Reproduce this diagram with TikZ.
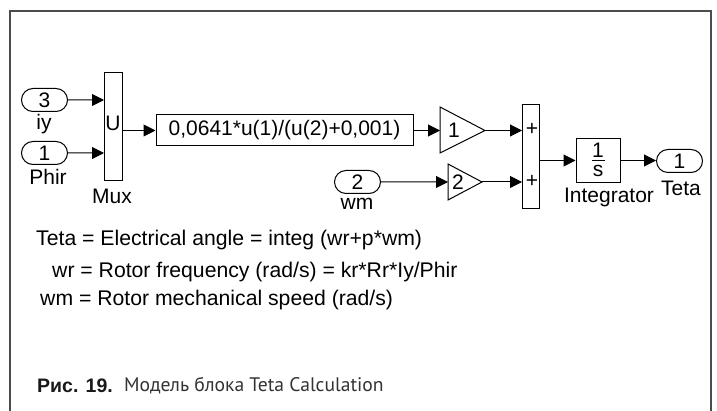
\documentclass[tikz,border=0pt]{standalone}
\usepackage{fontspec}
\setmainfont{Liberation Sans}
\newfontfamily\capfont{PT Sans}
\usetikzlibrary{arrows.meta,shapes.misc}
\tikzset{
   block/.style={draw, line width=1pt, inner sep=0pt},
   port/.style={block, rounded rectangle, minimum width=46pt, minimum height=23pt},
   wire/.style={line width=1pt, -{Triangle[length=12pt, width=12pt]}},
   lbl/.style={inner sep=0pt, font=\fontsize{21}{21}\selectfont},
   note/.style={inner sep=0pt, anchor=west, font=\fontsize{21.2}{22}\selectfont}
}
\begin{document}
\begin{tikzpicture}[x=1pt, y=-1pt]
   \useasboundingbox (0,0) rectangle (717,411);
   \path[fill=white] (0,0) rectangle (717,411);
   \draw[line width=1.4pt, black!70] (10,411) -- (10,11) -- (711,11) -- (711,411);
   \def \Ports {
      piy/21/100/3,
      pphir/21/153/1,
      pwm/334/182/2,
      pteta/656/161/1}
   \foreach \u / \x / \y / \t in \Ports {
      \node[port, anchor=west, lbl] (\u) at (\x, \y) {\t};
   }
   \node[block, minimum width=18pt, minimum height=108pt] (mux) at (113, 126.5) {};
   \node[block, minimum width=257pt, minimum height=31pt, lbl] (fcn) at (284.5, 130.5) {0,0641*u(1)/(u(2)+0,001)};
   \node[block, minimum width=17pt, minimum height=104pt] (sum) at (530.5, 156.5) {};
   \node[block, minimum width=44pt, minimum height=44pt] (integ) at (598, 160.5) {};
   \coordinate (muxin1) at (104, 100);
   \coordinate (muxin2) at (104, 153);
   \coordinate (sumin1) at (522, 130.5);
   \coordinate (sumin2) at (522, 182);
   % triangles are drawn by hand, the sizes differ
   \draw[line width=1pt] (440,107) -- (485,130.5) -- (440,153) -- cycle;
   \draw[line width=1pt] (448,164) -- (482,182) -- (448,200) -- cycle;
   \coordinate (gaina) at (440, 130.5);
   \coordinate (gainaout) at (485, 130.5);
   \coordinate (gainb) at (448, 182);
   \coordinate (gainbout) at (482, 182);
   \node[lbl] (gaintxta) at (454, 130) {1};
   \node[lbl] (gaintxtb) at (458, 182) {2};
   \node[lbl] (muxu) at (113, 123) {U};
   \node[lbl] (plusa) at (532, 129) {+};
   \node[lbl] (plusb) at (532, 181) {+};
   \node[lbl] (fracnum) at (598, 150) {1};
   \node[lbl] (fracden) at (598, 171) {s};
   \draw[line width=1pt] (592, 160.5) -- (605, 160.5);
   \node[lbl] (iylbl) at (44, 124) {iy};
   \node[lbl] (phirlbl) at (48, 177) {Phir};
   \node[lbl] (muxlbl) at (112, 196) {Mux};
   \node[lbl] (wmlbl) at (357, 204) {wm};
   \node[lbl] (integlbl) at (609, 197) {Integrator};
   \node[lbl] (tetalbl) at (681, 188) {Teta};
   \draw[wire] (piy) -- (muxin1);
   \draw[wire] (pphir) -- (muxin2);
   \draw[wire] (mux.east |- fcn) -- (fcn);
   \draw[wire] (fcn) -- (gaina);
   \draw[wire] (gainaout) -- (sumin1);
   \draw[wire] (pwm) -- (gainb);
   \draw[wire] (gainbout) -- (sumin2);
   \draw[wire] (sum.east |- integ) -- (integ);
   \draw[wire] (integ.east) -- (pteta.west |- integ.east);
   \node[note] (notea) at (36, 240) {Teta = Electrical angle = integ (wr+p*wm)};
   \node[note] (noteb) at (52, 272) {wr = Rotor frequency (rad/s) = kr*Rr*Iy/Phir};
   \node[note] (notec) at (40, 300) {wm = Rotor mechanical speed (rad/s)};
   \node[inner sep=0pt, anchor=west, font=\bfseries\fontsize{19.5}{20}\selectfont, black!90] (capnum) at (37, 386) {Рис. 19.};
   \node[inner sep=0pt, anchor=west, font=\capfont\fontsize{19.6}{20}\selectfont, black!80] (captxt) at (124, 386) {Модель блока Teta Calculation};
\end{tikzpicture}
\end{document}
